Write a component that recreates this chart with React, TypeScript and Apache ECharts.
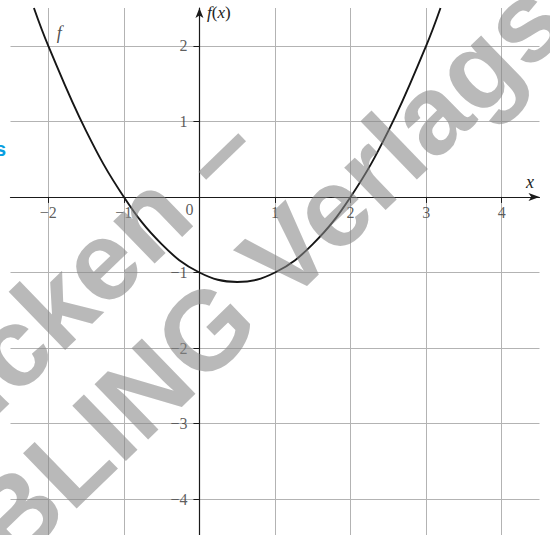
import React, { useEffect, useRef } from 'react';
import * as echarts from 'echarts';

// Axis ranges and ticks
const xRange = [-2.5, 4.5];
const yRange = [-4.5, 2.5];
const xTicks = [-2, -1, 0, 1, 2, 3, 4];
const xLabels = [-2, -1, 1, 2, 3, 4];
const yTicks = [-4, -3, -2, -1, 0, 1, 2];
const yLabels = [-4, -3, -2, -1, 1, 2];

// Points of f
const curveX = [-2.19, -2, -1.5, -1, -0.5, 0, 0.5, 1, 1.5, 2, 2.5, 3, 3.19];
const curveY = [2.5, 2, 0.875, 0, -0.625, -1, -1.125, -1, -0.625, 0, 0.875, 2, 2.5];

// Annotation texts
const fLabel = 'f';
const fLabelAt = [-2, 2];
const originLabel = '0';
const watermarkLines = ['Drucken –', 'BLING Verlags'];
const sideMark = 's';

const fmt = (v: number) => (v < 0 ? '\u2212' + Math.abs(v) : String(v));
const serif = 'Liberation Serif';
const gridColor = '#b3b3b3';
const axisColor = '#1a1a1a';
const labelColor = '#333';

export default function App() {
  const ref = useRef<HTMLDivElement>(null);
  useEffect(() => {
    if (!ref.current) return;
    const chart = echarts.init(ref.current, undefined, { renderer: 'svg' });
    const rot = (44 * Math.PI) / 180;
    const wmStyle = (text: string) => ({
      text,
      font: 'bold 112px "Liberation Sans"',
      fill: 'rgba(135,135,135,0.58)',
      align: 'center',
      verticalAlign: 'middle',
      textAlign: 'center',
      textVerticalAlign: 'middle',
    });
    const hiddenPoint = { symbolSize: 0, itemStyle: { color: 'rgba(0,0,0,0)' } };
    const gridAxis = (range: number[], position: string) => ({
      type: 'value',
      min: range[0],
      max: range[1],
      splitNumber: 7,
      position,
      axisLine: { show: false, onZero: false },
      axisTick: { show: false },
      axisLabel: { show: false },
      splitLine: {
        show: true,
        showMinLine: false,
        showMaxLine: false,
        lineStyle: { color: gridColor, width: 1 },
      },
    });
    const lineAxis = (range: number[], position: string, ticks: number[], arrow: number[]) => ({
      type: 'value',
      min: range[0],
      max: range[1],
      splitNumber: 7,
      position,
      axisLine: {
        show: true,
        onZero: true,
        symbol: ['none', 'arrow'],
        symbolSize: arrow,
        lineStyle: { color: axisColor, width: 1.2 },
      },
      axisTick: {
        show: true,
        customValues: ticks,
        length: 6,
        lineStyle: { color: axisColor, width: 1 },
      },
      axisLabel: { show: false },
      splitLine: { show: false },
    });
    chart.setOption({
      animation: false,
      grid: {
        left: 10.5,
        top: 8,
        width: 529,
        height: 529,
        containLabel: false,
        outerBoundsMode: 'none',
      },
      xAxis: [gridAxis(xRange, 'top'), lineAxis(xRange, 'bottom', xTicks, [6, 11])],
      yAxis: [gridAxis(yRange, 'right'), lineAxis(yRange, 'left', yTicks, [6, 10])],
      series: [
        {
          type: 'line',
          xAxisIndex: 1,
          yAxisIndex: 1,
          data: curveX.map((x, i) => [x, curveY[i]]),
          smooth: 0.4,
          showSymbol: false,
          symbol: 'none',
          clip: true,
          lineStyle: { color: '#161616', width: 1.9 },
          z: 5,
        },
        {
          type: 'scatter',
          xAxisIndex: 1,
          yAxisIndex: 1,
          data: xLabels.map((v) => [v, 0]),
          ...hiddenPoint,
          label: {
            show: true,
            formatter: (p: any) => fmt(p.value[0]),
            position: 'bottom',
            distance: 8,
            fontFamily: serif,
            fontSize: 16,
            color: labelColor,
          },
          z: 6,
        },
        {
          type: 'scatter',
          xAxisIndex: 1,
          yAxisIndex: 1,
          data: yLabels.map((v) => [0, v]),
          ...hiddenPoint,
          label: {
            show: true,
            formatter: (p: any) => fmt(p.value[1]),
            position: 'left',
            distance: 12,
            fontFamily: serif,
            fontSize: 16,
            color: labelColor,
          },
          z: 6,
        },
        {
          type: 'scatter',
          xAxisIndex: 1,
          yAxisIndex: 1,
          data: [[0, 0]],
          ...hiddenPoint,
          label: {
            show: true,
            formatter: originLabel,
            position: [-10, 13],
            align: 'center',
            verticalAlign: 'middle',
            fontFamily: serif,
            fontSize: 16,
            color: labelColor,
          },
          z: 6,
        },
        {
          type: 'scatter',
          xAxisIndex: 1,
          yAxisIndex: 1,
          data: [fLabelAt],
          ...hiddenPoint,
          label: {
            show: true,
            formatter: fLabel,
            position: [11, -13],
            align: 'center',
            verticalAlign: 'middle',
            fontFamily: serif,
            fontStyle: 'italic',
            fontSize: 18,
            color: '#222',
          },
          z: 6,
        },
      ],
      graphic: [
        {
          type: 'text',
          x: 207,
          y: 12,
          z: 50,
          style: {
            text: '{i|f}{n|(}{i|x}{n|)}',
            fill: '#222',
            align: 'left',
            verticalAlign: 'middle',
            textAlign: 'left',
            textVerticalAlign: 'middle',
            rich: {
              i: { fontFamily: serif, fontStyle: 'italic', fontSize: 17, fill: '#222' },
              n: { fontFamily: serif, fontSize: 17, fill: '#222' },
            },
          },
        },
        {
          type: 'text',
          x: 530,
          y: 182,
          z: 50,
          style: {
            text: 'x',
            font: 'italic 18px "Liberation Serif"',
            fill: '#222',
            align: 'center',
            verticalAlign: 'middle',
            textAlign: 'center',
            textVerticalAlign: 'middle',
          },
        },
        {
          type: 'text',
          x: 44,
          y: 317,
          rotation: rot,
          z: 100,
          style: wmStyle(watermarkLines[0]),
        },
        {
          type: 'text',
          x: 266,
          y: 272,
          rotation: rot,
          z: 100,
          style: wmStyle(watermarkLines[1]),
        },
        {
          type: 'text',
          x: 6,
          y: 149,
          z: 100,
          style: {
            text: sideMark,
            font: 'bold 20px "Liberation Sans"',
            fill: '#0a9ee0',
            align: 'right',
            verticalAlign: 'middle',
            textAlign: 'right',
            textVerticalAlign: 'middle',
          },
        },
      ],
    });
    return () => chart.dispose();
  }, []);
  return (
    <div
      ref={ref}
      style={{ position: 'fixed', left: 0, top: 0, width: 550, height: 535, background: '#fff' }}
    />
  );
}
